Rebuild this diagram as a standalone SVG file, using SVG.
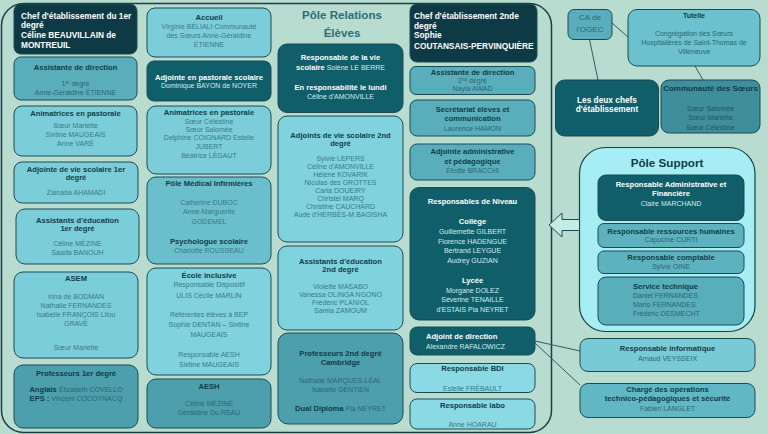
<svg xmlns="http://www.w3.org/2000/svg" width="768" height="434" viewBox="0 0 768 434">
<defs>
<style>
text{font-family:"Liberation Sans",Arial,sans-serif;font-size:7px;text-anchor:middle;fill:#3b7a85}
.t{font-weight:bold;font-size:7.6px;fill:#113d47}
.w{font-weight:bold;font-size:7.6px;fill:#ffffff}
.nw{fill:#d3ecef}
.nm{fill:#2c6771}
.nd{fill:#1f5660}
.h{font-weight:bold;font-size:8.3px;fill:#ffffff;text-anchor:start}
.l{text-anchor:start}
.bt{font-weight:bold;font-size:7.6px;fill:#113d47}
.bw{font-weight:bold;font-size:7.6px;fill:#ffffff}
.pole{font-weight:bold;font-size:11.6px;fill:#2f6c76}
.ps{font-weight:bold;font-size:11.7px;fill:#113d47}
.f8{font-size:8px}
.f83{font-size:8.3px}
.f7{font-size:7px}
.sup{font-size:4.5px}
rect{stroke:#1d4b53;stroke-width:1}
.k0{fill:#0d3a44}
.k1{fill:#0f5e69}
.k2{fill:#5aaebc}
.k3{fill:#4d9fad}
.k4{fill:#7bcdd9}
.k5{fill:#8ad9e4}
.k6{fill:#6bbecb}
.k7{fill:#80d2de}
.conn line{stroke:#2c5e66;stroke-width:1}
</style>
</defs>
<rect x="0" y="0" width="768" height="434" style="fill:#b8ddd0;stroke:none"/>
<rect x="1.5" y="3.5" width="550" height="429" rx="22" style="fill:none;stroke:#1b3d43;stroke-width:1.5"/>

<g class="conn">
<line x1="612" y1="23" x2="628" y2="37"/>
<line x1="589.5" y1="39.5" x2="598" y2="80"/>
<line x1="695" y1="66" x2="703" y2="80"/>
<line x1="535" y1="341" x2="580" y2="351"/>
<line x1="535" y1="343" x2="580" y2="385"/>
</g>

<!-- Column 1 -->
<g id="chef1">
<rect class="k0" x="14" y="4" width="123" height="50" rx="7"/>
<text class="h" x="21" y="18.5">Chef d'établissement du 1er</text>
<text class="h" x="21" y="28">degré</text>
<text class="h" x="21" y="38">Céline BEAUVILLAIN de</text>
<text class="h" x="21" y="48">MONTREUIL</text>
</g>
<g id="assistante1">
<rect class="k2" x="14" y="57" width="123" height="43" rx="7"/>
<text class="t" x="75.5" y="69.5">Assistante de direction</text>
<text class="nm" x="75.5" y="86">1<tspan class="sup" dy="-2">er</tspan><tspan dy="2"> degré</tspan></text>
<text class="nm" x="75.5" y="94.5">Anne-Géraldine ÉTIENNE</text>
</g>
<g id="animatrices1">
<rect class="k4" x="14" y="106" width="123" height="50" rx="8"/>
<text class="t" x="75.5" y="116">Animatrices en pastorale</text>
<text x="75.5" y="127.5">Sœur Mariette</text>
<text x="75.5" y="136.5">Sixtine MAUGEAIS</text>
<text x="75.5" y="145.5">Anne VARÉ</text>
</g>
<g id="adjointe-vs1">
<rect class="k4" x="14" y="162" width="124" height="41" rx="8"/>
<text class="t" x="76" y="171.5">Adjointe de vie scolaire 1er</text>
<text class="t" x="76" y="179.5">degré</text>
<text x="76" y="195">Zainaba AHAMADI</text>
</g>
<g id="assistants-educ1">
<rect class="k4" x="16" y="209" width="123" height="55" rx="9"/>
<text class="t" x="77.5" y="222.5">Assistants d'éducation</text>
<text class="t" x="77.5" y="230.5">1er degré</text>
<text x="77.5" y="246">Céline MÉZINE</text>
<text x="77.5" y="254.5">Saada BANOUH</text>
</g>
<g id="asem">
<rect class="k4" x="14" y="272" width="124" height="86" rx="9"/>
<text class="t" x="76" y="281">ASEM</text>
<text x="76" y="299">Irina de BODMAN</text>
<text x="76" y="308">Nathalie FERNANDES</text>
<text x="76" y="317">Isabelle FRANÇOIS Lilou</text>
<text x="76" y="326">GRAVÉ</text>
<text x="76" y="350">Sœur Mariette</text>
</g>
<g id="professeurs1">
<rect class="k3" x="14" y="365" width="124" height="63" rx="9"/>
<text class="t" x="76" y="376">Professeurs 1er degré</text>
<text class="nm" x="76" y="392"><tspan class="bt">Anglais</tspan>  Élizabeth COVELLO</text>
<text class="nm" x="76" y="401"><tspan class="bt">EPS :</tspan> Vincent COCOYNACQ</text>
</g>

<!-- Column 2 -->
<g id="accueil">
<rect class="k4" x="147" y="8" width="124" height="49" rx="8"/>
<text class="t" x="209" y="20">Accueil</text>
<text x="209" y="28.5">Virginie BÉLIALI Communauté</text>
<text x="209" y="37.5">des Sœurs Anne-Géraldine</text>
<text x="209" y="46.5">ÉTIENNE</text>
</g>
<g id="adjointe-pastorale">
<rect class="k1" x="147" y="61" width="124" height="40" rx="7"/>
<text class="w" x="209" y="79.5">Adjointe en pastorale scolaire</text>
<text class="nw" x="209" y="88">Dominique BAYON de NOYER</text>
</g>
<g id="animatrices2">
<rect class="k4" x="147" y="106" width="124" height="68" rx="9"/>
<text class="t" x="209" y="114.5">Animatrices en pastorale</text>
<text x="209" y="123.5">Sœur Célestine</text>
<text x="209" y="131.5">Sœur Salomée</text>
<text x="209" y="140">Delphine COIGNARD Estelle</text>
<text x="209" y="149">JUBERT</text>
<text x="209" y="158">Béatrice LÉGAUT</text>
</g>
<g id="pole-medical">
<rect class="k6" x="147" y="177" width="124" height="87" rx="9"/>
<text class="t" x="209" y="186">Pôle Médical Infirmières</text>
<text x="209" y="204.5">Catherine DUBOC</text>
<text x="209" y="214">Anne-Marguerite</text>
<text x="209" y="223.5">GODEMEL</text>
<text class="t" x="209" y="243.5">Psychologue scolaire</text>
<text x="209" y="252.5">Charlotte ROUSSEAU</text>
</g>
<g id="ecole-inclusive">
<rect class="k7" x="147" y="268" width="124" height="107" rx="9"/>
<text class="t" x="209" y="277.5">École inclusive</text>
<text x="209" y="287">Responsable Dispositif</text>
<text x="209" y="297.5">ULIS Cécile MARLIN</text>
<text x="209" y="317">Référentes élèves à BEP</text>
<text x="209" y="327">Sophie DENTAN – Sixtine</text>
<text x="209" y="337">MAUGEAIS</text>
<text x="209" y="357">Responsable AESH</text>
<text x="209" y="367">Sixtine MAUGEAIS</text>
</g>
<g id="aesh">
<rect class="k3" x="147" y="379" width="124" height="49" rx="9"/>
<text class="t" x="209" y="389">AESH</text>
<text class="nm" x="209" y="406">Céline MÉZINE</text>
<text class="nm" x="209" y="415">Géraldine Du REAU</text>
</g>

<!-- Column 3 -->
<g id="pole-relations">
<text class="pole" x="342" y="19">Pôle Relations</text>
<text class="pole" x="342" y="37">Élèves</text>
</g>
<g id="resp-vie-scolaire">
<rect class="k1" x="278" y="44" width="125" height="68.5" rx="9"/>
<text class="w" x="340.5" y="59.5">Responsable de la vie</text>
<text class="nw" x="340.5" y="69.5"><tspan class="bw">scolaire</tspan> Solène LE BERRE</text>
<text class="w" x="340.5" y="89.5">En responsabilité le lundi</text>
<text class="nw" x="340.5" y="99">Céline d'AMONVILLE</text>
</g>
<g id="adjoints-vs2">
<rect class="k7" x="278" y="116" width="125" height="126" rx="9"/>
<text class="t" x="340.5" y="137.5">Adjoints de vie scolaire 2nd</text>
<text class="t" x="340.5" y="146">degré</text>
<text x="340.5" y="160.5">Sylvie LEPERS</text>
<text x="340.5" y="168.5">Céline d'AMONVILLE</text>
<text x="340.5" y="176.5">Hélène KOVARIK</text>
<text x="340.5" y="184.5">Nicolas des GROTTES</text>
<text x="340.5" y="192.5">Carla DOUEIRY</text>
<text x="340.5" y="200.5">Christel MARQ</text>
<text x="340.5" y="208.5">Christine CAUCHARD</text>
<text x="340.5" y="216.5">Aude d'HERBÈS-M.BAGISHA</text>
</g>
<g id="assistants-educ2">
<rect class="k7" x="278" y="246" width="125" height="84" rx="9"/>
<text class="t" x="340.5" y="263.5">Assistants d'éducation</text>
<text class="t" x="340.5" y="272">2nd degré</text>
<text x="340.5" y="288.5">Violette MASABO</text>
<text x="340.5" y="296.5">Vanessa OLINGA NGONO</text>
<text x="340.5" y="304.5">Frédéric PLANIOL</text>
<text x="340.5" y="312.5">Samia ZAMOUM</text>
</g>
<g id="professeurs2">
<rect class="k3" x="278" y="333" width="125" height="91" rx="10"/>
<text class="t" x="340.5" y="355.5">Professeurs 2nd degré</text>
<text class="t" x="340.5" y="364.5">Cambridge</text>
<text class="nm" x="340.5" y="383">Nathalie MARQUES-LÉAL</text>
<text class="nm" x="340.5" y="392">Isabelle GENTIEN</text>
<text class="nm" x="340.5" y="411"><tspan class="bt">Dual Diploma</tspan>  Pia NEYRET</text>
</g>

<!-- Column 4 -->
<g id="chef2">
<rect class="k0" x="410" y="4" width="127" height="58" rx="7"/>
<text class="h" x="414" y="19">Chef d'établissement 2nde</text>
<text class="h" x="414" y="28.5">degré</text>
<text class="h" x="414" y="38">Sophie</text>
<text class="h" x="414" y="48.5">COUTANSAIS-PERVINQUIÈRE</text>
</g>
<g id="assistante2">
<rect class="k2" x="410" y="66.5" width="125" height="28" rx="6"/>
<text class="t" x="472.5" y="75">Assistante de direction</text>
<text class="nm" x="472.5" y="82.5">2<tspan class="sup" dy="-2">nd</tspan><tspan dy="2"> degré</tspan></text>
<text class="nm" x="472.5" y="91">Nayla AWAD</text>
</g>
<g id="secretariat">
<rect class="k2" x="410" y="100" width="125" height="36" rx="7"/>
<text class="t" x="472.5" y="111.5">Secrétariat élèves et</text>
<text class="t" x="472.5" y="121">communication</text>
<text class="nm" x="472.5" y="130.5">Laurence HAMON</text>
</g>
<g id="adjointe-admin">
<rect class="k2" x="410" y="144" width="125" height="36" rx="7"/>
<text class="t" x="472.5" y="154">Adjointe administrative</text>
<text class="t" x="472.5" y="163.5">et pédagogique</text>
<text class="nm" x="472.5" y="173">Élodie BRACCHI</text>
</g>
<g id="resp-niveau">
<rect class="k1" x="410" y="187.5" width="125" height="132.5" rx="9"/>
<text class="w" x="472.5" y="204">Responsables de Niveau</text>
<text class="w" x="472.5" y="223.5">Collège</text>
<text class="nw" x="472.5" y="234">Guillemette GILBERT</text>
<text class="nw" x="472.5" y="243.5">Florence HADENGUE</text>
<text class="nw" x="472.5" y="253">Bertrand LEYGUE</text>
<text class="nw" x="472.5" y="262.5">Audrey GUZIAN</text>
<text class="w" x="472.5" y="282.5">Lycée</text>
<text class="nw" x="472.5" y="292.5">Morgane DOLEZ</text>
<text class="nw" x="472.5" y="302">Séverine TENAILLE</text>
<text class="nw" x="472.5" y="312">d'ESTAIS Pia NEYRET</text>
</g>
<g id="adjoint-direction">
<rect class="k1" x="410" y="327" width="125" height="28" rx="7"/>
<text class="w l" x="426" y="339">Adjoint de direction</text>
<text class="nw l" x="426" y="349">Alexandre RAFALOWICZ</text>
</g>
<g id="resp-bdi">
<rect class="k5" x="410" y="363.5" width="125" height="29" rx="7"/>
<text class="t" x="472.5" y="371">Responsable BDI</text>
<text x="472.5" y="390.5">Estelle FRÉBAULT</text>
</g>
<g id="resp-labo">
<rect class="k5" x="410" y="399" width="125" height="30" rx="7"/>
<text class="t" x="472.5" y="408">Responsable labo</text>
<text x="472.5" y="427">Anne HOARAU</text>
</g>

<!-- Right side -->
<g id="ca-ogec">
<rect class="k2" x="568" y="9.5" width="44" height="30" rx="6"/>
<text class="nm f8" x="590" y="19.5">CA de</text>
<text class="nm f8" x="590" y="32">l'OGEC</text>
</g>
<g id="tutelle">
<rect x="628" y="9.5" width="132" height="56.5" rx="9" style="fill:#6bc1cd"/>
<text class="t f7" x="694" y="17.5">Tutelle</text>
<text class="nm" x="694" y="36">Congrégation des Sœurs</text>
<text class="nm" x="694" y="45">Hospitalières de Saint-Thomas de</text>
<text class="nm" x="694" y="54">Villeneuve</text>
</g>
<g id="deux-chefs">
<rect class="k1" x="555.5" y="80" width="103" height="56" rx="9"/>
<text class="w f83" x="607" y="102.5">Les deux chefs</text>
<text class="w f83" x="607" y="112">d'établissement</text>
</g>
<g id="communaute">
<rect x="661" y="80" width="99" height="53" rx="8" style="fill:#3f8e9b"/>
<text class="t f8" x="710.5" y="91">Communauté des Sœurs</text>
<text class="nd" x="710.5" y="110.5">Sœur Salomée</text>
<text class="nd" x="710.5" y="120">Sœur Mariette</text>
<text class="nd" x="710.5" y="129.5">Sœur Célestine</text>
</g>
<g id="pole-support">
<rect x="579.5" y="147.5" width="175.5" height="184" rx="26" style="fill:#a6eef3;stroke:#1b3d43;stroke-width:1.2"/>
<text class="ps" x="667" y="167">Pôle Support</text>
<polygon points="549,225 562,213 562,219.5 579.5,219.5 579.5,230.5 562,230.5 562,237" style="fill:#c4ece6;stroke:#1d4b53;stroke-width:1"/>
</g>
<g id="raf">
<rect class="k1" x="598" y="175" width="146" height="45.5" rx="8"/>
<text class="w" x="671" y="187">Responsable Administrative et</text>
<text class="w" x="671" y="196">Financière</text>
<text class="nw" x="671" y="205.5">Claire MARCHAND</text>
</g>
<g id="rh">
<rect x="598" y="223.5" width="146" height="24" rx="6" style="fill:#5eb2bf"/>
<text class="t" x="671" y="233.5">Responsable ressources humaines</text>
<text class="nm" x="671" y="242">Capucine CURTI</text>
</g>
<g id="comptable">
<rect x="598" y="251" width="146" height="22.5" rx="6" style="fill:#5eb2bf"/>
<text class="t" x="671" y="259.5">Responsable comptable</text>
<text class="nm" x="671" y="268.5">Sylvie OINE</text>
</g>
<g id="service-technique">
<rect x="598" y="277" width="146" height="48" rx="8" style="fill:#5aadba"/>
<text class="t l" x="633" y="289">Service technique</text>
<text class="nm l" x="633" y="298">Daniel FERNANDES</text>
<text class="nm l" x="633" y="307">Mario FERNANDES</text>
<text class="nm l" x="633" y="316">Frédéric DESMECHT</text>
</g>
<g id="informatique">
<rect x="580" y="338.5" width="175" height="33" rx="8" style="fill:#78cad7"/>
<text class="t" x="667.5" y="351">Responsable informatique</text>
<text class="nm" x="667.5" y="360.5">Arnaud VEYSSEIX</text>
</g>
<g id="charge-operations">
<rect x="580" y="383.5" width="175" height="34" rx="8" style="fill:#62b7c4"/>
<text class="t" x="667.5" y="392">Chargé des opérations</text>
<text class="t" x="667.5" y="401">technico-pédagogiques et sécurité</text>
<text class="nm" x="667.5" y="410.5">Fabien LANGLET</text>
</g>
</svg>
